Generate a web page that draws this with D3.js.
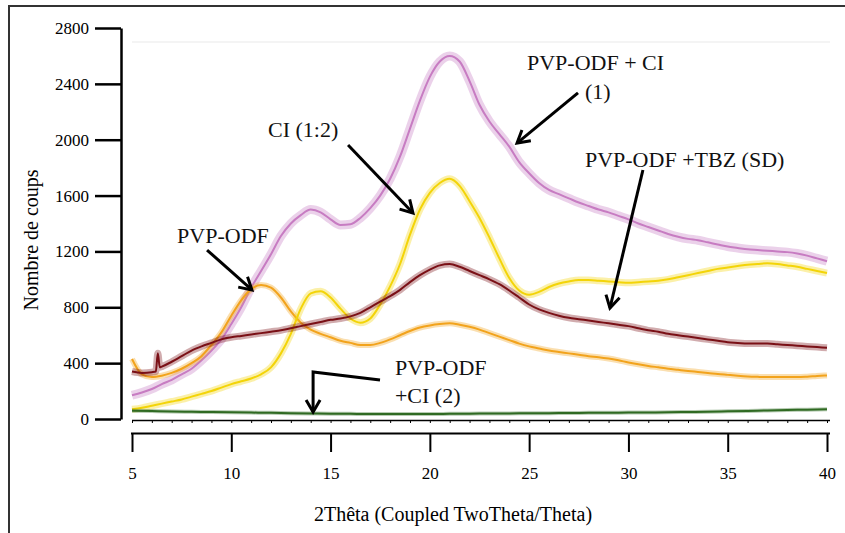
<!DOCTYPE html>
<html><head><meta charset="utf-8">
<script src="https://cdn.jsdelivr.net/npm/d3@7"></script>
<style>
body{margin:0;background:#fff;}
svg{display:block;font-family:"Liberation Serif","Times New Roman",serif;}
</style>
</head><body>
<svg id="c" width="845" height="533"></svg>
<script>
// ---- data ----
const theta = [5,5.5,6,6.5,7,7.5,8,8.5,9,9.5,10,10.5,11,11.5,12,12.5,13,13.5,14,14.5,15,15.5,16,16.5,17,17.5,18,18.5,19,19.5,20,20.5,21,21.5,22,22.5,23,23.5,24,24.5,25,25.5,26,26.5,27,27.5,28,28.5,29,29.5,30,30.5,31,31.5,32,32.5,33,33.5,34,34.5,35,35.5,36,36.5,37,37.5,38,38.5,39,39.5,40];

// PVP-ODF + CI (1)  (purple)
const pvpCi1 = [170,190,215,250,280,320,360,420,490,570,680,800,940,1060,1180,1310,1400,1460,1500,1480,1430,1390,1395,1440,1510,1600,1720,1880,2080,2280,2450,2560,2600,2560,2420,2250,2130,2040,1950,1840,1760,1690,1640,1610,1580,1550,1525,1500,1480,1455,1430,1400,1375,1350,1325,1305,1290,1280,1265,1250,1235,1225,1215,1210,1205,1200,1195,1185,1170,1150,1130];

// CI (1:2)  (yellow)
const ci12 = [70,80,95,110,125,140,160,180,200,225,250,270,290,320,370,470,610,790,900,915,870,790,720,690,720,820,950,1110,1320,1500,1620,1690,1720,1670,1560,1440,1300,1150,1010,920,890,910,945,970,985,995,995,990,985,980,975,980,985,990,1000,1015,1030,1045,1060,1075,1085,1095,1105,1110,1115,1110,1100,1090,1075,1060,1045];

// PVP-ODF  (orange)
const pvpOdf = [430,320,300,310,330,360,400,450,530,620,740,850,930,960,940,870,770,690,640,610,585,560,545,530,530,545,570,600,630,655,670,680,685,675,660,640,615,590,565,540,520,505,490,480,470,460,450,443,433,420,405,392,380,370,360,352,344,337,330,322,316,310,305,302,300,300,300,300,303,308,312];

// PVP-ODF + TBZ (SD)  (maroon) - own grid because of the small peak near 6.3
const tbzTheta = [5,5.5,6,6.2,6.3,6.4,6.5,7,7.5,8,8.5,9,9.5,10,10.5,11,11.5,12,12.5,13,13.5,14,14.5,15,15.5,16,16.5,17,17.5,18,18.5,19,19.5,20,20.5,21,21.5,22,22.5,23,23.5,24,24.5,25,25.5,26,26.5,27,27.5,28,28.5,29,29.5,30,30.5,31,31.5,32,32.5,33,33.5,34,34.5,35,35.5,36,36.5,37,37.5,38,38.5,39,39.5,40];
const pvpTbz = [340,330,335,340,470,370,375,410,450,490,520,545,570,585,595,605,615,625,635,650,665,680,695,710,720,735,760,800,840,880,925,980,1030,1070,1100,1110,1090,1060,1030,1000,965,920,870,820,785,760,740,725,715,705,695,685,675,665,650,635,625,610,600,590,580,570,560,550,545,540,540,540,535,530,525,520,515,510];

// PVP-ODF + CI (2)  (green) - 1° grid
const greenTheta = [5,6,7,8,9,10,11,12,13,14,15,16,17,18,19,20,21,22,23,24,25,26,27,28,29,30,31,32,33,34,35,36,37,38,39,40];
const pvpCi2 = [60,57,54,52,50,48,46,44,42,40,38,37,36,36,36,36,37,38,39,40,41,42,43,44,45,46,47,48,50,52,55,58,61,64,67,70];

// axis ticks
const yTicks = [0,400,800,1200,1600,2000,2400,2800];
const xTicks = [5,10,15,20,25,30,35,40];
const xMinorTicks = [5,6,7,8,9,10,11,12,13,14,15,16,17,18,19,20,21,22,23,24,25,26,27,28,29,30,31,32,33,34,35,36,37,38,39,40];

// annotations in data units [theta, counts]
const labels = [
  {t:"PVP-ODF + CI", p:[24.89,2499]},
  {t:"(1)", p:[27.81,2292]},
  {t:"PVP-ODF +TBZ (SD)", p:[27.81,1805]},
  {t:"CI (1:2)", p:[11.85,2019]},
  {t:"PVP-ODF", p:[7.27,1260]},
  {t:"PVP-ODF", p:[18.24,315]},
  {t:"+CI (2)", p:[18.24,115]}
];
const arrows = [
  [[27.46,2335],[24.39,1976]],
  [[15.88,1962],[19.15,1475]],
  [[30.73,1783],[29.07,795]],
  [[8.78,1210],[11.04,924]],
  [[17.49,279],[14.12,337],[14.12,50]]
];

// ---- drawing ----
const svg = d3.select("#c");
const x = d3.scaleLinear().domain([5,40]).range([132,827]);
const y = d3.scaleLinear().domain([0,2800]).range([419,28]);

// outer frame
svg.append("rect").attr("x",9).attr("y",6).attr("width",900).attr("height",600)
  .attr("fill","none").attr("stroke","#333").attr("stroke-width",2);

// faint top line
svg.append("line").attr("x1",x(5)).attr("x2",x(40)+3).attr("y1",42).attr("y2",42)
  .attr("stroke","#f0f0f0").attr("stroke-width",1.5);

// y axis
const gy = svg.append("g").attr("transform","translate(121,0)")
  .call(d3.axisLeft(y).tickValues(yTicks).tickSize(26).tickSizeOuter(0).tickPadding(6).tickFormat(d3.format("d")));
gy.select(".domain").attr("stroke","#000").attr("stroke-width",2.5);
gy.selectAll(".tick line").attr("stroke","#000").attr("stroke-width",2.5);
gy.selectAll(".tick text").attr("font-size",17).attr("font-family","Liberation Serif").attr("fill","#000");

// x minor axis (upper)
const gxm = svg.append("g").attr("transform","translate(0,420)")
  .call(d3.axisBottom(x).tickValues(xMinorTicks).tickSize(3).tickSizeOuter(0).tickFormat(""));
gxm.select(".domain").attr("stroke","#000").attr("stroke-width",1.5).attr("d","M132,0.5H830");
gxm.selectAll(".tick line").attr("stroke","#000").attr("stroke-width",1);

// x major axis (lower)
const gx = svg.append("g").attr("transform","translate(0,433)")
  .call(d3.axisBottom(x).tickValues(xTicks).tickSize(19).tickSizeOuter(0).tickPadding(15).tickFormat(d3.format("d")));
gx.select(".domain").attr("stroke","#000").attr("stroke-width",2).attr("d","M131,0.5H830");
gx.selectAll(".tick line").attr("stroke","#000").attr("stroke-width",2);
gx.selectAll(".tick text").attr("font-size",17).attr("font-family","Liberation Serif").attr("fill","#000");

// axis titles
svg.append("text").attr("x",453).attr("y",521).attr("text-anchor","middle")
  .attr("font-size",20).text("2Thêta (Coupled TwoTheta/Theta)");
svg.append("text").attr("transform","translate(38,240) rotate(-90)").attr("text-anchor","middle")
  .attr("font-size",20).text("Nombre de coups");

// series
const series = [
  {th:theta, v:pvpCi1, c:"#c77cc2", band:9},
  {th:theta, v:pvpOdf, c:"#f2a31c", band:6},
  {th:theta, v:ci12, c:"#f3d408", band:7},
  {th:tbzTheta, v:pvpTbz, c:"#7a1016", band:7},
  {th:greenTheta, v:pvpCi2, c:"#2f6a22", band:4}
];
const line = d3.line().x(d=>x(d[0])).y(d=>y(d[1])).curve(d3.curveMonotoneX);
series.forEach(s=>{
  const pts = s.th.map((t,i)=>[t,s.v[i]]);
  svg.append("path").attr("d",line(pts)).attr("fill","none").attr("stroke",s.c)
    .attr("stroke-width",s.band).attr("stroke-opacity",0.35).attr("stroke-linejoin","round");
  svg.append("path").attr("d",line(pts)).attr("fill","none").attr("stroke",s.c)
    .attr("stroke-width",2).attr("stroke-linejoin","round");
});

// annotations
labels.forEach(l=>{
  svg.append("text").attr("x",x(l.p[0])).attr("y",y(l.p[1])).attr("font-size",22)
    .attr("fill","#111").text(l.t);
});
arrows.forEach(a=>{
  const pts = a.map(p=>[x(p[0]),y(p[1])]);
  svg.append("path").attr("d",d3.line()(pts)).attr("fill","none").attr("stroke","#000")
    .attr("stroke-width",3);
  const [x1,y1] = pts[pts.length-2], [x2,y2] = pts[pts.length-1];
  const ang = Math.atan2(y2-y1,x2-x1), L = 14, w = Math.PI/6;
  const h = [[x2-L*Math.cos(ang-w), y2-L*Math.sin(ang-w)],[x2,y2],[x2-L*Math.cos(ang+w), y2-L*Math.sin(ang+w)]];
  svg.append("path").attr("d",d3.line()(h)).attr("fill","none").attr("stroke","#000")
    .attr("stroke-width",3).attr("stroke-linejoin","miter");
});
</script>
</body></html>
